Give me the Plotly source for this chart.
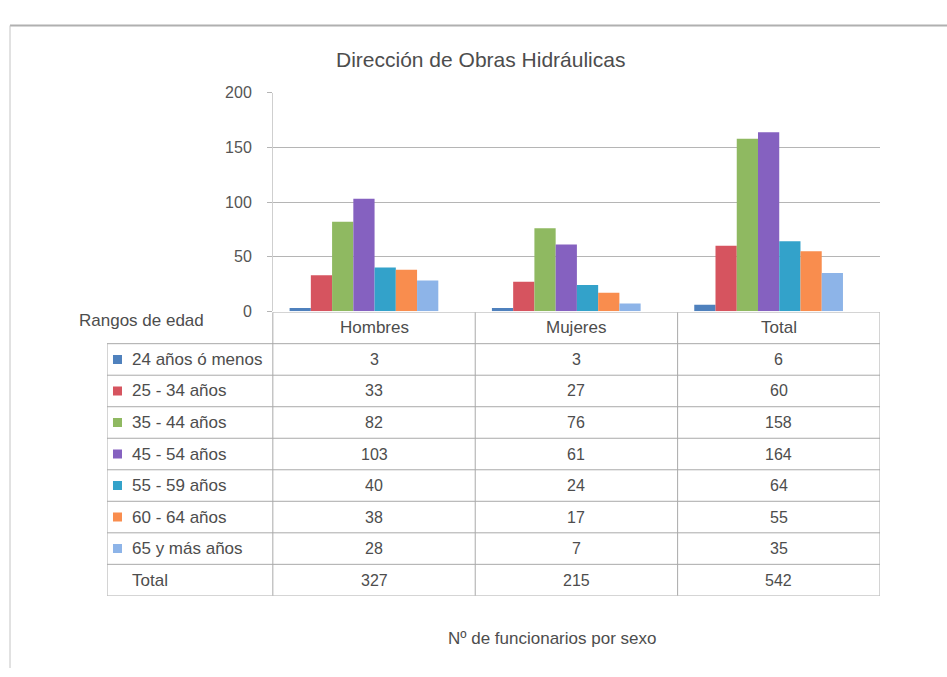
import plotly.graph_objects as go

# ---------------- data ----------------
title_text = "Dirección de Obras Hidráulicas"
groups = ["Hombres", "Mujeres", "Total"]
age_ranges = ["24 años ó menos", "25 - 34 años", "35 - 44 años", "45 - 54 años",
              "55 - 59 años", "60 - 64 años", "65 y más años"]
hombres = [3, 33, 82, 103, 40, 38, 28]
mujeres = [3, 27, 76, 61, 24, 17, 7]
total = [6, 60, 158, 164, 64, 55, 35]
col_totals = [327, 215, 542]
total_label = "Total"
row_header = "Rangos de edad"
footer = "Nº de funcionarios por sexo"
y_ticks = [0, 50, 100, 150, 200]
colors = ["#4F81BD", "#D6545F", "#8FB961", "#8561C0", "#33A2CA", "#F98D4E", "#8DB4E8"]

W, H = 947, 677
text_color = "#4d4d4d"
line_color = "#a9a9a9"
FONT = "Liberation Sans, Arial, sans-serif"

fig = go.Figure()

# ---------------- bars ----------------
bar_w = 0.105
start = -0.418
xs = list(range(1, len(groups) + 1))
for i, name in enumerate(age_ranges):
    fig.add_trace(go.Bar(
        x=xs, y=[hombres[i], mujeres[i], total[i]],
        width=bar_w, offset=start + i * bar_w,
        marker=dict(color=colors[i], line=dict(width=0)),
        name=name, xaxis="x", yaxis="y", showlegend=False,
    ))

# ---------------- data table ----------------
n_rows = len(age_ranges) + 1  # + total row
label_left = 0.5 - 166 / 202.6
rows = list(range(1, n_rows + 1))

# legend swatches in table
fig.add_trace(go.Scatter(
    x=[label_left + 10.5 / 202.6] * len(age_ranges), y=rows[:len(age_ranges)],
    mode="markers", marker=dict(symbol="square", size=9, color=colors),
    xaxis="x2", yaxis="y2", showlegend=False, hoverinfo="skip",
))

annotations = []
text_x = label_left + 23 / 202.6
for r, lab in zip(rows, age_ranges + [total_label]):
    annotations.append(dict(x=text_x, y=r, xref="x2", yref="y2", text=lab,
                            showarrow=False, xanchor="left", yanchor="middle",
                            font=dict(size=17, color=text_color, family=FONT)))
for c, g in zip(xs, groups):
    annotations.append(dict(x=c, y=0, xref="x2", yref="y2", text=g,
                            showarrow=False, xanchor="center", yanchor="middle",
                            font=dict(size=17, color=text_color, family=FONT)))
columns = [hombres + [col_totals[0]], mujeres + [col_totals[1]], total + [col_totals[2]]]
for c, col in zip(xs, columns):
    for r, v in zip(rows, col):
        annotations.append(dict(x=c, y=r, xref="x2", yref="y2", text=str(v),
                                showarrow=False, xanchor="center", yanchor="middle",
                                font=dict(size=16, color=text_color, family=FONT)))

shapes = []
right = len(groups) + 0.5
# horizontal lines
for r in range(0, n_rows + 1):
    shapes.append(dict(type="line", xref="x2", yref="y2", x0=label_left, x1=right,
                       y0=r + 0.5, y1=r + 0.5, line=dict(color=line_color, width=1)))
shapes.append(dict(type="line", xref="x2", yref="y2", x0=0.5, x1=right,
                   y0=-0.5, y1=-0.5, line=dict(color=line_color, width=1)))
# vertical lines
for c in range(0, len(groups) + 1):
    shapes.append(dict(type="line", xref="x2", yref="y2", x0=c + 0.5, x1=c + 0.5,
                       y0=-0.5, y1=n_rows + 0.5, line=dict(color=line_color, width=1)))
shapes.append(dict(type="line", xref="x2", yref="y2", x0=label_left, x1=label_left,
                   y0=0.5, y1=n_rows + 0.5, line=dict(color=line_color, width=1)))

# outer chart border
shapes.append(dict(type="line", xref="paper", yref="paper", x0=10 / W, x1=1.0,
                   y0=1 - 18 / H, y1=1 - 18 / H, line=dict(color="#b0b0b0", width=2)))
shapes.append(dict(type="line", xref="paper", yref="paper", x0=10 / W, x1=10 / W,
                   y0=1 - 18 / H, y1=0, line=dict(color="#c4c4c4", width=1)))

# titles
annotations.append(dict(x=481 / W, y=1 - 53 / H, xref="paper", yref="paper", text=title_text,
                        showarrow=False, xanchor="center", yanchor="middle",
                        font=dict(size=21, color=text_color, family=FONT)))
annotations.append(dict(x=77 / W, y=1 - 321 / H, xref="paper", yref="paper", text=row_header,
                        showarrow=False, xanchor="left", yanchor="middle",
                        font=dict(size=17, color=text_color, family=FONT)))
annotations.append(dict(x=552 / W, y=1 - 647 / H, xref="paper", yref="paper", text=footer,
                        showarrow=False, xanchor="center", yanchor="middle",
                        font=dict(size=17, color=text_color, family=FONT)))

fig.update_layout(
    width=W, height=H, margin=dict(l=0, r=0, t=0, b=0),
    paper_bgcolor="white", plot_bgcolor="white",
    barmode="overlay", showlegend=False,
    font=dict(family=FONT, color=text_color),
    xaxis=dict(domain=[273 / W, 880 / W], range=[0.5, len(groups) + 0.5],
               showticklabels=False, showgrid=False, zeroline=False, showline=False,
               fixedrange=True, anchor="y"),
    yaxis=dict(domain=[1 - 311 / H, 1 - 87 / H], range=[0, 200], tickvals=y_ticks,
               showgrid=True, gridcolor="#b5b5b5", gridwidth=1, zeroline=False,
               showline=True, linecolor="#cfcfcf", ticks="outside", ticklen=5,
               tickcolor="#b5b5b5", ticklabelstandoff=12,
               tickfont=dict(size=16, color="#555555", family=FONT),
               fixedrange=True, anchor="x"),
    xaxis2=dict(domain=[107 / W, 880 / W], range=[label_left, right], visible=False,
                anchor="y2", fixedrange=True),
    yaxis2=dict(domain=[1 - 603 / H, 1 - 312 / H], range=[n_rows + 0.5, -0.5], visible=False,
                anchor="x2", fixedrange=True),
    shapes=shapes, annotations=annotations,
)

fig.write_html("out.html", post_script="document.body.style.margin='0';",
               config={"displayModeBar": False})
